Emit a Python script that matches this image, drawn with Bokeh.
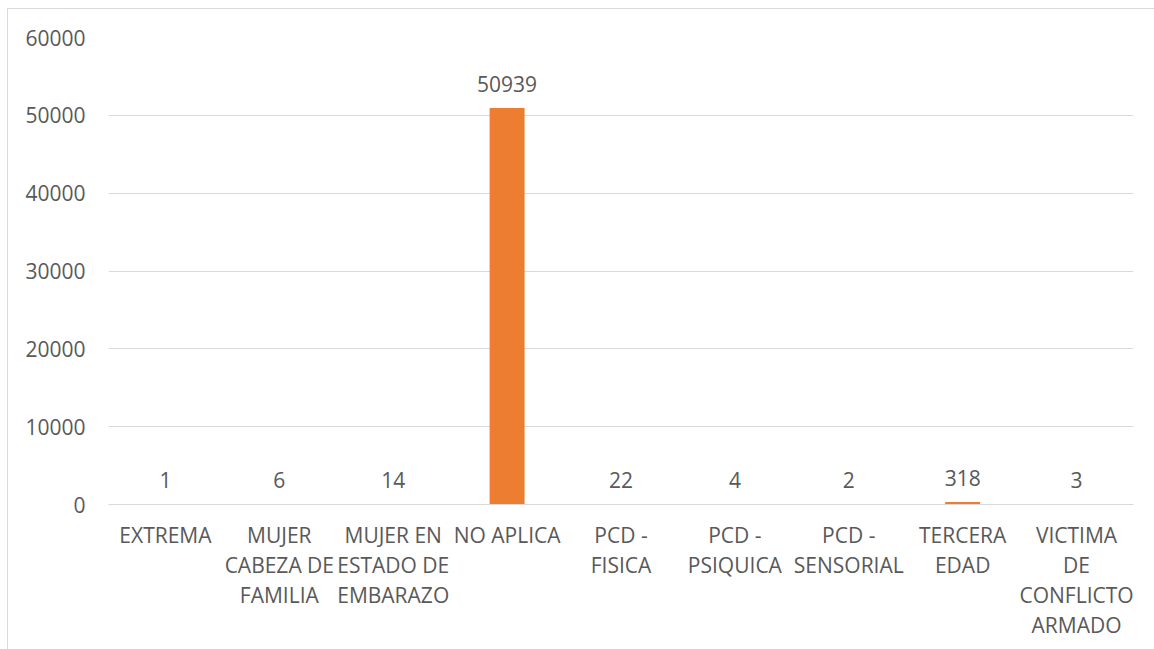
from bokeh.plotting import figure
from bokeh.models import (ColumnDataSource, Range1d, FixedTicker, BasicTickFormatter,
                          CategoricalAxis, CustomJSTickFormatter)
from bokeh.core.properties import value
from bokeh.embed import file_html
from bokeh.resources import INLINE

categories = [
    "EXTREMA",
    "MUJER CABEZA DE FAMILIA",
    "MUJER EN ESTADO DE EMBARAZO",
    "NO APLICA",
    "PCD - FISICA",
    "PCD - PSIQUICA",
    "PCD - SENSORIAL",
    "TERCERA EDAD",
    "VICTIMA DE CONFLICTO ARMADO",
]
category_lines = [
    ["EXTREMA"],
    ["MUJER", "CABEZA DE", "FAMILIA"],
    ["MUJER EN", "ESTADO DE", "EMBARAZO"],
    ["NO APLICA"],
    ["PCD -", "FISICA"],
    ["PCD -", "PSIQUICA"],
    ["PCD -", "SENSORIAL"],
    ["TERCERA", "EDAD"],
    ["VICTIMA", "DE", "CONFLICTO", "ARMADO"],
]
counts = [1, 6, 14, 50939, 22, 4, 2, 318, 3]
y_ticks = [0, 10000, 20000, 30000, 40000, 50000, 60000]

FONT = "Open Sans"
TEXT_COLOR = "#595959"
GRID_COLOR = "#d9d9d9"
BAR_COLOR = "#ED7D31"

source = ColumnDataSource(data=dict(
    cat=categories,
    count=counts,
    label=[str(c) for c in counts],
))

p = figure(
    x_range=categories,
    y_range=Range1d(0, 60000),
    width=1146, height=641,
    frame_width=1025, frame_height=467,
    min_border_left=100, min_border_top=28,
    min_border_right=21, min_border_bottom=146,
    output_backend="svg", toolbar_location=None,
)
p.styles = {
    "margin-left": "7px",
    "margin-top": "8px",
    "border-left": f"1px solid {GRID_COLOR}",
    "border-top": f"1px solid {GRID_COLOR}",
}

p.vbar(x="cat", top="count", width=0.307, source=source,
       fill_color=BAR_COLOR, line_color=None)

# value labels above each bar
p.text(x="cat", y="count", text="label", source=source,
       text_align="center", text_baseline="alphabetic", y_offset=-24,
       text_font=value(FONT), text_font_size="21px", text_color=TEXT_COLOR)

p.x_range.range_padding = 0
p.outline_line_color = None
p.background_fill_color = "white"
p.border_fill_color = "white"

p.xgrid.grid_line_color = None
p.ygrid.grid_line_color = GRID_COLOR
p.ygrid.grid_line_width = 1
p.ygrid.ticker = FixedTicker(ticks=y_ticks)

p.yaxis.ticker = FixedTicker(ticks=y_ticks)
p.yaxis.formatter = BasicTickFormatter(use_scientific=False)
p.yaxis.axis_line_color = None
p.yaxis.major_tick_line_color = None
p.yaxis.minor_tick_line_color = None
p.yaxis.major_label_standoff = 17
p.yaxis.major_label_text_font = FONT
p.yaxis.major_label_text_font_size = "21px"
p.yaxis.major_label_text_color = TEXT_COLOR


def style_name_axis(ax, line_no, standoff):
    # each stacked axis shows one wrapped line of every category name
    lookup = {
        cat: (lines[line_no] if line_no < len(lines) else "")
        for cat, lines in zip(categories, category_lines)
    }
    ax.formatter = CustomJSTickFormatter(
        args=dict(lookup=lookup),
        code="const s = lookup.get ? lookup.get(tick) : lookup[tick]; return s == null ? '' : s;",
    )
    ax.major_tick_line_color = None
    ax.minor_tick_line_color = None
    ax.major_tick_out = 0
    ax.major_tick_in = 0
    ax.major_label_standoff = standoff
    ax.major_label_orientation = "horizontal"
    ax.major_label_text_font = FONT
    ax.major_label_text_font_size = "21px"
    ax.major_label_text_color = TEXT_COLOR


main_x = p.xaxis[0]
main_x.axis_line_color = GRID_COLOR
main_x.axis_line_width = 1
style_name_axis(main_x, 0, 16)

max_lines = max(len(lines) for lines in category_lines)
for line_no in range(1, max_lines):
    extra = CategoricalAxis(axis_line_color=None)
    style_name_axis(extra, line_no, -1)
    p.add_layout(extra, "below")

open("out.html", "w").write(file_html(p, INLINE))
